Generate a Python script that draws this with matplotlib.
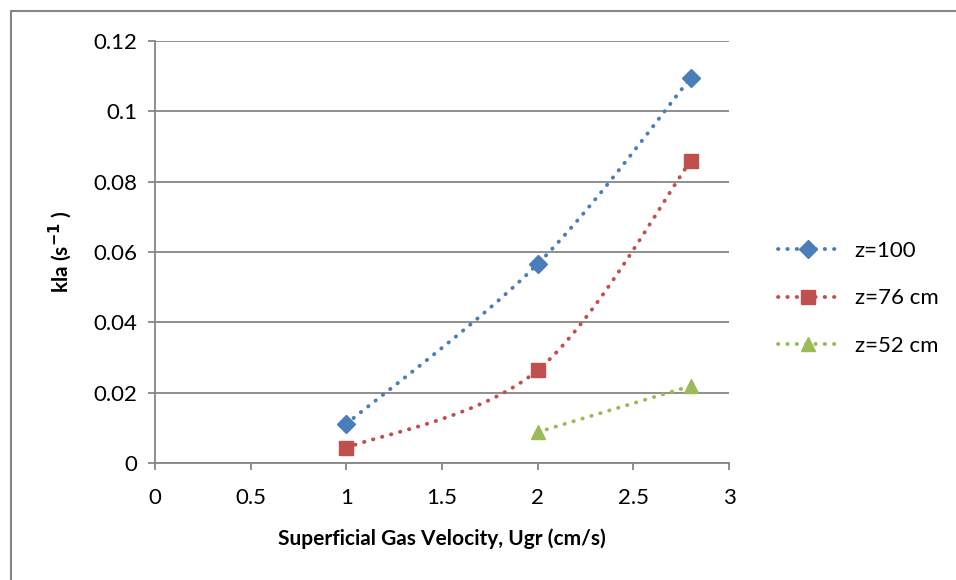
import numpy as np
import matplotlib.pyplot as plt
from matplotlib.patches import Rectangle

# datos
ugr_100 = [1.0, 2.0, 2.8]
kla_100 = [0.0111, 0.0566, 0.1095]
ugr_76 = [1.0, 2.0, 2.8]
kla_76 = [0.0043, 0.0264, 0.0859]
ugr_52 = [2.0, 2.8]
kla_52 = [0.0088, 0.0219]
etiquetas = ['z=100', 'z=76 cm', 'z=52 cm']


def suavizar(x, y, n=40):
    # curva tipo Excel (Bezier con tangentes de Catmull-Rom)
    x = np.asarray(x, float)
    y = np.asarray(y, float)
    if len(x) < 3:
        return x, y
    px, py = [], []
    m = len(x)
    for i in range(m - 1):
        x0, y0 = (x[i - 1], y[i - 1]) if i > 0 else (x[i], y[i])
        x3, y3 = (x[i + 2], y[i + 2]) if i + 2 < m else (x[i + 1], y[i + 1])
        c1x = x[i] + (x[i + 1] - x0) / 6
        c1y = y[i] + (y[i + 1] - y0) / 6
        c2x = x[i + 1] - (x3 - x[i]) / 6
        c2y = y[i + 1] - (y3 - y[i]) / 6
        t = np.linspace(0, 1, n)
        bx = (1-t)**3*x[i] + 3*(1-t)**2*t*c1x + 3*(1-t)*t**2*c2x + t**3*x[i+1]
        by = (1-t)**3*y[i] + 3*(1-t)**2*t*c1y + 3*(1-t)*t**2*c2y + t**3*y[i+1]
        px.extend(bx)
        py.extend(by)
    return np.array(px), np.array(py)


plt.rcParams['font.family'] = ['Lato', 'DejaVu Sans']

fig = plt.figure(figsize=(9.56, 5.8), dpi=100)
ax = fig.add_axes([155/956, 1 - 463/580, (729 - 155)/956, (463 - 41)/580])

fig.patches.append(Rectangle((11/956, -0.1), 1.2, 1 - 11/580 + 0.1, transform=fig.transFigure,
                             fill=False, edgecolor='#868686', linewidth=1.5))

series = [(ugr_100, kla_100, '#4A7EBB', 'D', 9.5),
          (ugr_76, kla_76, '#C0504D', 's', 10.5),
          (ugr_52, kla_52, '#9BBB59', '^', 10.5)]

for (xs, ys, col, mk, ms), lab in zip(series, etiquetas):
    sx, sy = suavizar(xs, ys)
    ax.plot(sx, sy, color=col, linewidth=2.8, linestyle=(0, (0.1, 2.3)),
            dash_capstyle='round', zorder=3)
    ax.plot(xs, ys, linestyle='none', marker=mk, markersize=ms, color=col, zorder=4)
    ax.plot([], [], color=col, linewidth=2.8, linestyle=(0, (0.1, 2.3)),
            dash_capstyle='round', marker=mk, markersize=ms, label=lab)

ax.set_xlim(0, 3)
ax.set_ylim(0, 0.12)
ax.set_xticks(np.arange(0, 3.01, 0.5))
ax.set_xticklabels(['0', '0.5', '1', '1.5', '2', '2.5', '3'])
ax.set_yticks(np.arange(0, 0.121, 0.02))
ax.set_yticklabels(['0', '0.02', '0.04', '0.06', '0.08', '0.1', '0.12'])

ax.grid(axis='y', color='#868686', linewidth=1.3)
ax.set_axisbelow(True)
for s in ['top', 'right']:
    ax.spines[s].set_visible(False)
for s in ['left', 'bottom']:
    ax.spines[s].set_color('#868686')
    ax.spines[s].set_linewidth(1.3)
ax.tick_params(axis='both', colors='#868686', labelcolor='black', labelsize=16,
               length=5, width=1.3, direction='out')
ax.tick_params(axis='x', pad=13)
ax.tick_params(axis='y', pad=8)

ax.set_xlabel('Superficial Gas Velocity, Ugr (cm/s)', fontsize=15, fontweight='bold', labelpad=15)
ax.set_ylabel('kla (s$^{\\mathbf{-1}}$ )', fontsize=15, fontweight='bold', labelpad=14)

ax.legend(loc='center left', bbox_to_anchor=(1.0, 0.39), frameon=False, fontsize=16,
          handlelength=2.7, labelspacing=1.25, borderaxespad=1.8, handletextpad=0.75)

fig.savefig('out.png', dpi=100)
